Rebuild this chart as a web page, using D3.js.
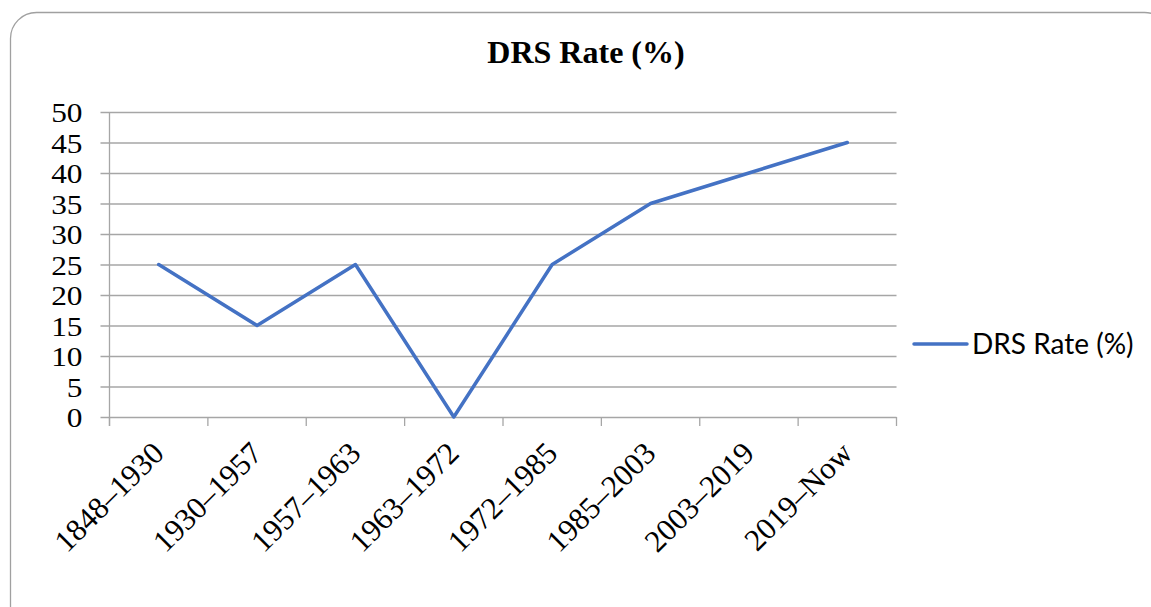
<!DOCTYPE html>
<html>
<head>
<meta charset="utf-8">
<script src="https://cdn.jsdelivr.net/npm/d3@7"></script>
<style>
  html, body { margin: 0; padding: 0; background: #fff; }
  svg { display: block; }
</style>
</head>
<body>
<svg id="chart" width="1151" height="607"></svg>
<script>
// DRS rate by period
const periods = ["1848–1930", "1930–1957", "1957–1963", "1963–1972", "1972–1985", "1985–2003", "2003–2019", "2019–Now"];
const drsRate = [25, 15, 25, 0, 25, 35, 40, 45];
const yTicks = [0, 5, 10, 15, 20, 25, 30, 35, 40, 45, 50];
const seriesName = "DRS Rate (%)";
const chartTitle = "DRS Rate (%)";

const svg = d3.select("#chart");
const lineColor = "#4472C4";
const gridColor = "#a6a6a6";
const serif = "'Liberation Serif', 'Times New Roman', serif";

// Rounded chart frame
svg.append("rect")
  .attr("x", 10.5).attr("y", 12.5)
  .attr("width", 1160).attr("height", 620)
  .attr("rx", 26).attr("ry", 26)
  .attr("fill", "#fff").attr("stroke", "#a0a0a0").attr("stroke-width", 1.3);

const plot = { left: 109.5, right: 896.5, top: 112, bottom: 417 };

const x = d3.scaleBand().domain(periods).range([plot.left, plot.right]).padding(0);
const y = d3.scaleLinear().domain([0, 50]).range([plot.bottom, plot.top]);

// Title
svg.append("text")
  .attr("x", 586).attr("y", 63)
  .attr("text-anchor", "middle")
  .attr("font-family", serif).attr("font-weight", "bold").attr("font-size", 32)
  .text(chartTitle);

// Horizontal gridlines with outward ticks
const yAxis = d3.axisLeft(y).tickValues(yTicks).tickSize(-(plot.right - plot.left)).tickPadding(0);
const gy = svg.append("g").attr("transform", `translate(${plot.left},0)`).call(yAxis);
gy.select(".domain").remove();
gy.selectAll(".tick line").attr("stroke", gridColor).attr("x1", -9).attr("stroke-width", 1.3);
// Tick labels: slightly wide serif digits, right-aligned left of the axis
gy.selectAll(".tick text")
  .attr("x", 0)
  .attr("transform", "translate(-27,0) scale(1.12,1)")
  .attr("font-family", serif).attr("font-size", 28).attr("fill", "#000")
  .attr("dy", "0.34em");

// Vertical axis line
svg.append("line")
  .attr("x1", plot.left).attr("x2", plot.left)
  .attr("y1", plot.top).attr("y2", plot.bottom + 9)
  .attr("stroke", gridColor).attr("stroke-width", 1.3);

// Category boundary ticks along the bottom
const edges = periods.map(p => x(p)).concat([plot.right]);
svg.append("g").selectAll("line").data(edges).join("line")
  .attr("x1", d => d).attr("x2", d => d)
  .attr("y1", plot.bottom).attr("y2", plot.bottom + 9)
  .attr("stroke", gridColor).attr("stroke-width", 1.3);

// Rotated category labels
svg.append("g").selectAll("text").data(periods).join("text")
  .attr("transform", d => `translate(${x(d) + x.bandwidth() / 2 + 7},${plot.bottom + 38}) rotate(-45)`)
  .attr("text-anchor", "end")
  .attr("font-family", serif).attr("font-size", 31).attr("fill", "#000")
  .text(d => d);

// Series line
const line = d3.line()
  .x((d, i) => x(periods[i]) + x.bandwidth() / 2)
  .y(d => y(d));
svg.append("path")
  .datum(drsRate)
  .attr("d", line)
  .attr("fill", "none")
  .attr("stroke", lineColor).attr("stroke-width", 3.5)
  .attr("stroke-linejoin", "round").attr("stroke-linecap", "round");

// Legend
const lg = svg.append("g").attr("transform", "translate(914,344)");
lg.append("line").attr("x1", 0).attr("x2", 53).attr("y1", 0).attr("y2", 0)
  .attr("stroke", lineColor).attr("stroke-width", 3.5).attr("stroke-linecap", "round");
lg.append("text").attr("x", 58).attr("y", 0).attr("dy", "0.35em")
  .attr("font-family", "Lato, 'Open Sans', sans-serif").attr("font-size", 28).attr("fill", "#000")
  .text(seriesName);
</script>
</body>
</html>
